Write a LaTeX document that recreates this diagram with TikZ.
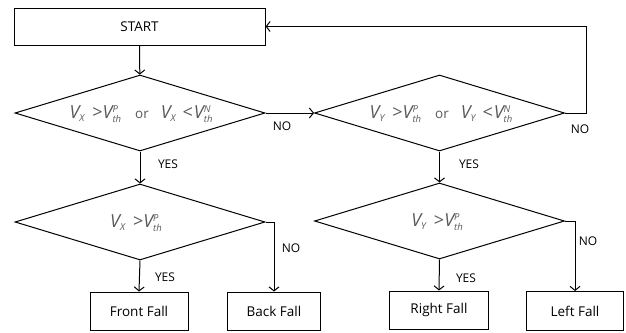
\documentclass[tikz,border=0pt]{standalone}
\usepackage{fontspec}
\setmainfont{Open Sans}
\usetikzlibrary{shapes.geometric,arrows.meta}
\newcommand{\vsym}[1]{{\fontsize{18}{20}\selectfont\itshape V}{\fontsize{9.5}{10}\selectfont\itshape\raisebox{-3pt}{#1}}}
\newcommand{\vth}[1]{{\fontsize{18}{20}\selectfont\itshape V}{\fontsize{9.5}{10}\selectfont\itshape\raisebox{-3.5pt}{\shortstack[l]{#1\\th}}}}
\newcommand{\relsym}[1]{{\fontsize{18}{20}\selectfont #1}}
\begin{document}
\begin{tikzpicture}[x=1pt,y=-1pt,line width=1pt,
  box/.style={draw,rectangle,inner sep=0pt,font=\fontsize{13.5}{15}\selectfont},
  dia/.style={draw,diamond,inner sep=0pt,minimum width=250pt,minimum height=76pt},
  arr/.style={-{Straight Barb[length=4pt,width=10pt,line width=1pt]}},
  lab/.style={font=\fontsize{12}{14}\selectfont,inner sep=0pt},
  mtxt/.style={text=black!65,inner sep=0pt,font=\fontsize{13.5}{15}\selectfont}]
\useasboundingbox (0,0) rectangle (626,332);
\node[box,minimum width=251pt,minimum height=37pt] (start) at (139.5,26.5) {START};
\node[dia] (d1) at (140,113) {};
\node[dia] (d2) at (439.5,113) {};
\node[dia] (d3) at (140,222) {};
\node[dia] (d4) at (439.5,221) {};
\node[mtxt] (t1) at (141,114) {\vsym{X}\hspace{8pt}\relsym{>}\vth{P}\hspace{14pt}or\hspace{12pt}\vsym{X}\hspace{7pt}\relsym{<}\hspace{1pt}\vth{N}};
\node[mtxt] (t2) at (441,114) {\vsym{Y}\hspace{8pt}\relsym{>}\vth{P}\hspace{14pt}or\hspace{12pt}\vsym{Y}\hspace{7pt}\relsym{<}\hspace{1pt}\vth{N}};
\node[mtxt] (t3) at (136,223) {\vsym{X}\hspace{8pt}\relsym{>}\vth{P}};
\node[mtxt] (t4) at (437,222) {\vsym{Y}\hspace{8pt}\relsym{>}\vth{P}};
\node[box,minimum width=98pt,minimum height=38pt] (front) at (139,311) {Front Fall};
\node[box,minimum width=93pt,minimum height=38pt] (back) at (274,311) {Back Fall};
\node[box,minimum width=99pt,minimum height=38pt] (right) at (439,310) {Right Fall};
\node[box,minimum width=97pt,minimum height=39pt] (left) at (575,311) {Left Fall};
\draw[arr] (start) -- (d1);
\draw[arr] (d1.east) -- (d2.west);
\draw[arr] (d2.east) -- ++(21,0) |- (start.east);
\draw[arr] (d1.south) -- (d3.north);
\draw[arr] (d2.south) -- (d4.north);
\draw[arr] (d3.south) -- (front.north);
\draw[arr] (d3.east) -| (back.north);
\draw[arr] (d4.south) -- (right.north);
\draw[arr] (d4.east) -| (left.north);
\node[lab] (n1) at (282,126) {NO};
\node[lab] (n2) at (580,129) {NO};
\node[lab] (y1) at (168,164) {YES};
\node[lab] (y2) at (469,164) {YES};
\node[lab] (n3) at (291,248) {NO};
\node[lab] (n4) at (588,241) {NO};
\node[lab] (y3) at (165,277) {YES};
\node[lab] (y4) at (466,278) {YES};
\end{tikzpicture}
\end{document}
